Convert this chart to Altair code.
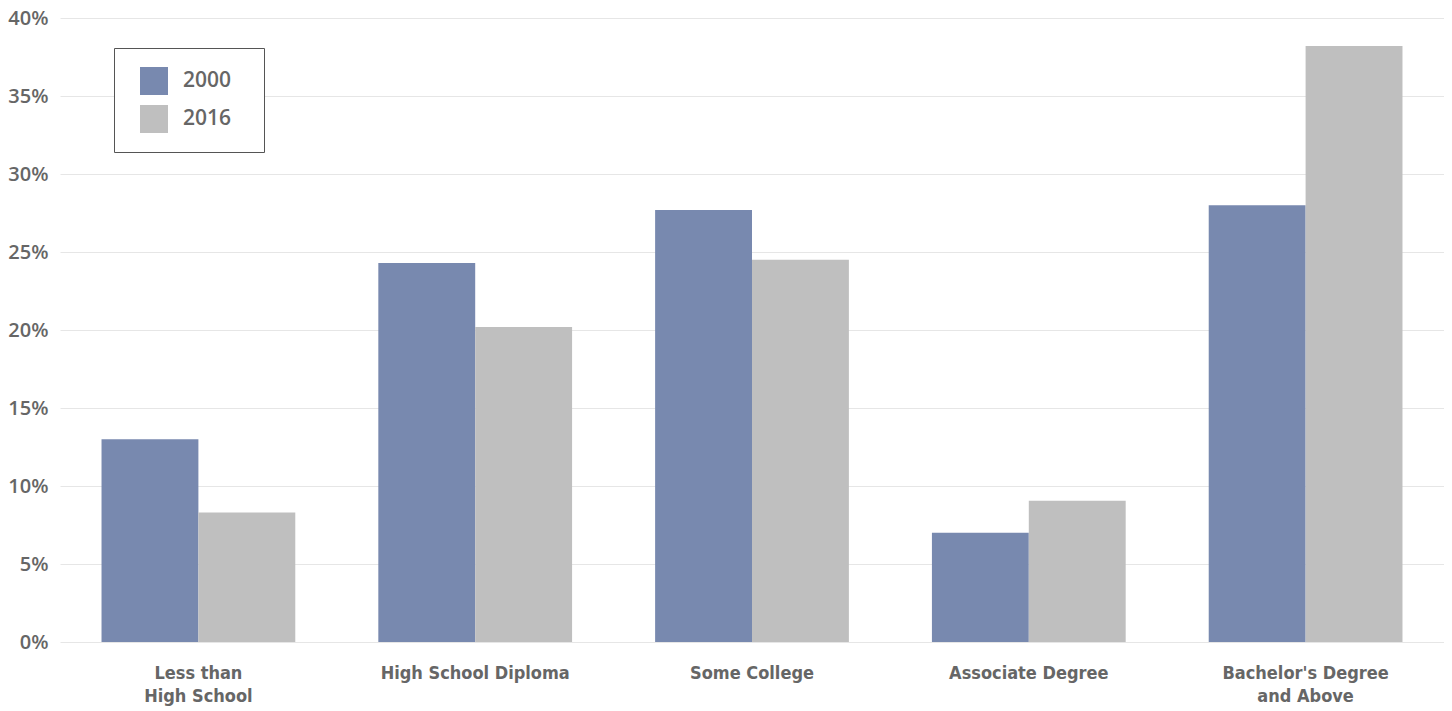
import altair as alt
import pandas as pd

categories = ["Less than|High School", "High School Diploma", "Some College",
              "Associate Degree", "Bachelor's Degree|and Above"]
values_2000 = [13.0, 24.3, 27.7, 7.0, 28.0]
values_2016 = [8.3, 20.2, 24.5, 9.05, 38.2]
years = ["2000", "2016"]
colors = ["#7889AF", "#BFBFBF"]

rows = []
for c, a, b in zip(categories, values_2000, values_2016):
    rows.append({"cat": c, "year": "2000", "value": a / 100})
    rows.append({"cat": c, "year": "2016", "value": b / 100})
df = pd.DataFrame(rows)

chart = alt.Chart(df).mark_bar().encode(
    x=alt.X("cat:N", sort=categories, title=None,
            scale=alt.Scale(paddingInner=0.3, paddingOuter=0.15),
            axis=alt.Axis(labelAngle=0, labelExpr="split(datum.label, '|')",
                          labelFont="DejaVu Sans Condensed", labelFontWeight="bold",
                          labelFontSize=18, labelColor="#666666", labelLineHeight=23,
                          labelPadding=22, labelLimit=400,
                          domain=False, ticks=False, grid=False)),
    xOffset=alt.XOffset("year:N", sort=years),
    y=alt.Y("value:Q", title=None,
            scale=alt.Scale(domain=[0, 0.4], nice=False),
            axis=alt.Axis(format=".0%", values=[0, 0.05, 0.1, 0.15, 0.2, 0.25, 0.3, 0.35, 0.4],
                          labelFont="Open Sans", labelFontWeight=600, labelFontSize=20,
                          labelColor="#666666", labelPadding=12,
                          domain=False, ticks=False, gridColor="#E6E6E6", gridWidth=1)),
    color=alt.Color("year:N", sort=years,
                    scale=alt.Scale(domain=years, range=colors),
                    legend=alt.Legend(orient="none", legendX=54, legendY=30,
                                      title=".", titleOrient="right", titleFontSize=8,
                                      titleColor="transparent", titlePadding=11,
                                      symbolType="square", symbolSize=784,
                                      symbolStrokeWidth=0, symbolOffset=7,
                                      labelFont="Open Sans", labelFontWeight=600,
                                      labelFontSize=21, labelColor="#666666",
                                      labelOffset=15, rowPadding=10, padding=19,
                                      strokeColor="#555555", fillColor="white")),
).properties(
    width=1384, height=624,
    autosize=alt.AutoSizeParams(type="none"),
    padding={"left": 52, "top": 10, "right": 0, "bottom": 67},
    background="white",
).configure_view(stroke="transparent", strokeWidth=0)

chart.save("out.html", embed_options={"renderer": "svg", "actions": False})
